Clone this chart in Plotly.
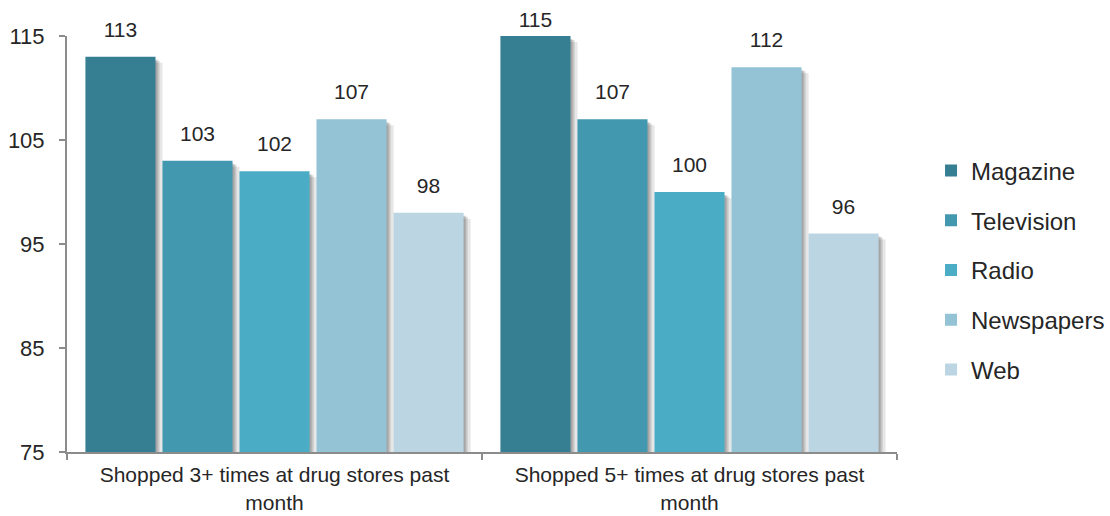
import plotly.graph_objects as go

categories = ["Shopped 3+ times at drug stores past<br>month",
              "Shopped 5+ times at drug stores past<br>month"]
series_names = ["Magazine", "Television", "Radio", "Newspapers", "Web"]
magazine = [113, 115]
television = [103, 107]
radio = [102, 100]
newspapers = [107, 112]
web = [98, 96]
values = [magazine, television, radio, newspapers, web]
colors = ["#367F93", "#4298AF", "#4BACC6", "#93C3D5", "#BCD5E2"]
y_ticks = [75, 85, 95, 105, 115]
Y_MIN, Y_MAX = 75, 115

FONT = "Liberation Sans, Arial, sans-serif"
TXT = "#262626"

W, H = 1110, 516
ML, MR, MT, MB = 67, 213, 36, 64
BARGAP, BARGROUPGAP = 0.072, 0.09
n = len(series_names)
px_per_x = (W - ML - MR) / len(categories)
y_per_px = (Y_MAX - Y_MIN) / (H - MT - MB)
slot = (1 - BARGAP) / n
bar_w = slot * (1 - BARGROUPGAP)

fig = go.Figure()
# soft drop shadows behind bars
for i, vals in enumerate(values):
    left = -(1 - BARGAP) / 2 + i * slot + slot * BARGROUPGAP / 2
    for dx, dy, op in [(2, 3, 0.22), (4, 4, 0.18), (7, 6, 0.12)]:
        fig.add_trace(go.Bar(
            x=categories, y=[v - dy * y_per_px for v in vals],
            offset=left + dx / px_per_x, width=bar_w,
            marker=dict(color="#303030", opacity=op, line_width=0),
            showlegend=False, hoverinfo="skip",
        ))
for i, (name, vals, col) in enumerate(zip(series_names, values, colors)):
    fig.add_trace(go.Bar(
        x=categories, y=vals, name=name, marker_color=col,
        marker_line_width=0, offsetgroup=str(i),
        legendgroup=name, hoverinfo="skip",
    ))
for i, (name, vals) in enumerate(zip(series_names, values)):
    sizes = [22 if v < Y_MAX else 4.4 for v in vals]
    fig.add_trace(go.Scatter(
        x=categories, y=vals, mode="markers+text",
        text=[str(v) for v in vals], textposition="top center",
        textfont=dict(family=FONT, size=21, color=TXT),
        marker=dict(size=sizes, color="rgba(0,0,0,0)",
                    line=dict(width=0, color="rgba(0,0,0,0)")),
        offsetgroup=str(i), showlegend=False, cliponaxis=False,
        hoverinfo="skip",
    ))

fig.update_layout(
    width=W, height=H,
    margin=dict(l=ML, r=MR, t=MT, b=MB, autoexpand=False),
    paper_bgcolor="white", plot_bgcolor="white",
    barmode="group", bargap=BARGAP, bargroupgap=BARGROUPGAP,
    scattermode="group", scattergap=BARGAP,
    font=dict(family=FONT, color=TXT),
    showlegend=True,
    legend=dict(
        x=1.041, xanchor="left", y=0.4375, yanchor="middle",
        font=dict(family=FONT, size=24, color=TXT),
        traceorder="grouped", tracegroupgap=15.5,
        itemclick=False,
    ),
)
fig.update_yaxes(
    range=[Y_MIN, Y_MAX], tickvals=y_ticks, showgrid=False, zeroline=False,
    showline=True, linecolor="#8C8C8C", linewidth=2,
    ticks="outside", ticklen=6, tickwidth=2, tickcolor="#8C8C8C",
    tickfont=dict(family=FONT, size=22, color=TXT), ticklabelstandoff=10,
    automargin=False,
)
fig.update_xaxes(
    showgrid=False, zeroline=False,
    showline=True, linecolor="#8C8C8C", linewidth=2,
    ticks="outside", ticklen=6, tickwidth=2, tickcolor="#8C8C8C",
    tickson="boundaries",
    tickfont=dict(family=FONT, size=21, color=TXT), ticklabelstandoff=3,
    automargin=False,
)

fig.write_html("out.html")
